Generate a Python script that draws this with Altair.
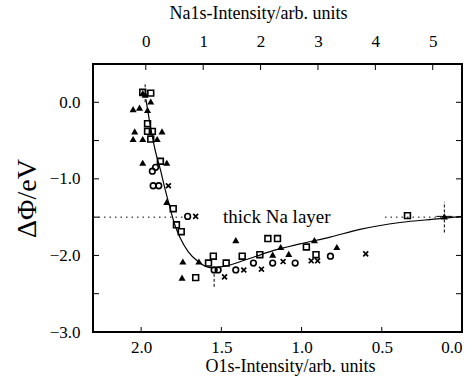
import altair as alt
import pandas as pd

# ---- data (O1s intensity, work-function change) ----
tri_o = [2.05, 2.01, 1.96, 1.94, 1.975, 1.99, 2.04, 1.87, 2.05, 1.99, 1.90, 1.99, 1.84,
         1.84, 1.74, 1.64, 1.745, 1.41, 1.18, 1.13, 1.08, 0.92, 0.78, 0.11]
tri_phi = [-0.09, -0.07, -0.10, 0.01, 0.10, 0.12, -0.38, -0.38, -0.48, -0.48, -0.48, -0.79, -0.79,
           -1.30, -2.08, -2.08, -2.29, -1.80, -1.99, -1.89, -1.98, -1.80, -1.89, -1.49]

sq_o = [1.99, 1.94, 1.96, 1.96, 1.93, 1.94, 1.88, 1.80, 1.78, 1.75, 1.66, 1.58, 1.55,
        1.47, 1.37, 1.26, 1.21, 1.15, 0.97, 0.91, 0.34]
sq_phi = [0.13, 0.12, -0.28, -0.38, -0.38, -0.48, -0.77, -1.39, -1.60, -1.69, -2.29, -2.10, -2.01,
          -2.10, -2.01, -1.99, -1.78, -1.78, -1.89, -1.99, -1.48]

ci_o = [1.93, 1.91, 1.925, 1.89, 1.71, 1.545, 1.52, 1.41, 1.30, 1.18, 1.04, 0.82]
ci_phi = [-0.90, -0.85, -1.09, -1.09, -1.49, -2.19, -2.19, -2.19, -2.10, -2.10, -2.10, -2.01]

x_o = [1.83, 1.66, 1.48, 1.36, 1.25, 1.115, 0.94, 0.90, 0.60]
x_phi = [-1.09, -1.49, -2.28, -2.19, -2.18, -2.08, -2.07, -2.07, -1.98]

fit_o = [1.97, 1.944, 1.913, 1.88, 1.85, 1.82, 1.79, 1.757, 1.707, 1.645, 1.57, 1.477,
         1.352, 1.196, 1.01, 0.822, 0.636, 0.386, 0.137, 0.0]
fit_phi = [0.04, -0.29, -0.62, -0.88, -1.14, -1.38, -1.60, -1.77, -1.95, -2.08, -2.16, -2.14,
           -2.06, -1.95, -1.85, -1.76, -1.66, -1.57, -1.52, -1.49]

thick_na = -1.5
thick_seg_o1 = [2.3, 0.48]
thick_seg_o2 = [1.72, 0.0]
label_text = ["thick Na layer"]
label_o = [1.49]

err_o = [0.11, 1.545, 1.975]
err_lo = [-1.70, -2.41, 0.0]
err_hi = [-1.30, -2.21, 0.24]
herr_o1 = [0.16]
herr_o2 = [0.06]
herr_phi = [-1.49]

o_ticks = [2.0, 1.5, 1.0, 0.5]
phi_ticks = [0.0, -0.5, -1.0, -1.5, -2.0, -2.5]
na_ticks = [0, 1, 2, 3, 4, 5]

W, H = 369, 268
FONT = "Liberation Serif"
o_scale = alt.Scale(domain=[2.3, 0.0], nice=False, zero=False)
phi_scale = alt.Scale(domain=[-3.0, 0.5], nice=False, zero=False)
na_scale = alt.Scale(domain=[-0.92, 5.51], nice=False, zero=False)

x_axis = alt.Axis(values=[2.0, 1.5, 1.0, 0.5, 0.0], format=".1f", tickSize=0,
                  domain=False, grid=False, labelFont=FONT, labelFontSize=17,
                  labelPadding=7, labelColor="black",
                  title="O1s-Intensity/arb. units", titleFont=FONT,
                  titleFontSize=18, titleFontWeight="normal", titleColor="black",
                  titlePadding=2, titleX=197)
y_axis = alt.Axis(values=[0.0, -1.0, -2.0, -3.0], format=".1f", tickSize=0,
                  domain=False, grid=False, labelFont=FONT, labelFontSize=17,
                  labelPadding=13, labelColor="black",
                  title="ΔΦ/eV", titleFont=FONT, titleFontSize=28,
                  titleFontWeight="normal", titleColor="black", titlePadding=8)


def X(f):
    return alt.X(f, type="quantitative", scale=o_scale, axis=x_axis)


def Y(f):
    return alt.Y(f, type="quantitative", scale=phi_scale, axis=y_axis)


base = alt.Chart(pd.DataFrame({"o": o_ticks})).mark_rule(color="black", strokeWidth=1).encode(
    x=X("o"), y=alt.value(H), y2=alt.value(H - 5))

phi_df = pd.DataFrame({"phi": phi_ticks})
left_ticks = alt.Chart(phi_df).mark_rule(color="black", strokeWidth=1).encode(
    y=Y("phi"), x=alt.value(0), x2=alt.value(6))
right_ticks = alt.Chart(phi_df).mark_rule(color="black", strokeWidth=1).encode(
    y=Y("phi"), x=alt.value(W), x2=alt.value(W - 6))

na_df = pd.DataFrame({"na": na_ticks})
top_ticks = alt.Chart(na_df).mark_rule(color="black", strokeWidth=1).encode(
    x=alt.X("na:Q", scale=na_scale,
            axis=alt.Axis(orient="top", values=na_ticks, format="d", tickSize=0,
                          domain=False, grid=False, labelFont=FONT, labelFontSize=17,
                          labelPadding=14, labelColor="black",
                          title="Na1s-Intensity/arb. units", titleFont=FONT,
                          titleFontSize=18, titleFontWeight="normal", titleColor="black",
                          titlePadding=10, titleX=165)),
    y=alt.value(0), y2=alt.value(6))

fit = alt.Chart(pd.DataFrame({"o": fit_o, "phi": fit_phi})).mark_line(
    color="black", strokeWidth=1.2, interpolate="monotone").encode(x=X("o"), y=Y("phi"))

seg = alt.Chart(pd.DataFrame({"o1": thick_seg_o1, "o2": thick_seg_o2,
                              "phi": [thick_na, thick_na]})).mark_rule(
    color="black", strokeWidth=1, strokeDash=[1.5, 4]).encode(
    x=X("o1"), x2="o2", y=Y("phi"))

label = alt.Chart(pd.DataFrame({"o": label_o, "phi": [thick_na], "t": label_text})).mark_text(
    font=FONT, fontSize=19, align="left", baseline="middle", color="black").encode(
    x=X("o"), y=Y("phi"), text="t:N")

verr = alt.Chart(pd.DataFrame({"o": err_o, "lo": err_lo, "hi": err_hi})).mark_rule(
    color="black", strokeWidth=1, strokeDash=[3, 2]).encode(x=X("o"), y=Y("lo"), y2="hi")
herr = alt.Chart(pd.DataFrame({"o1": herr_o1, "o2": herr_o2, "phi": herr_phi})).mark_rule(
    color="black", strokeWidth=1).encode(x=X("o1"), x2="o2", y=Y("phi"))

tri = alt.Chart(pd.DataFrame({"o": tri_o, "phi": tri_phi})).mark_point(
    shape="triangle-up", filled=True, color="black", size=50, opacity=1).encode(
    x=X("o"), y=Y("phi"))
sq = alt.Chart(pd.DataFrame({"o": sq_o, "phi": sq_phi})).mark_point(
    shape="square", filled=False, color="black", strokeWidth=1.6, size=34, opacity=1).encode(
    x=X("o"), y=Y("phi"))
ci = alt.Chart(pd.DataFrame({"o": ci_o, "phi": ci_phi})).mark_point(
    shape="circle", filled=False, color="black", strokeWidth=1.6, size=32, opacity=1).encode(
    x=X("o"), y=Y("phi"))
xx = alt.Chart(pd.DataFrame({"o": x_o, "phi": x_phi})).mark_point(
    shape="M-1,-1L1,1M-1,1L1,-1", filled=False, color="black", strokeWidth=1.7, size=24,
    opacity=1).encode(x=X("o"), y=Y("phi"))

main = alt.layer(base, left_ticks, right_ticks, fit, seg, label, verr, herr, tri, sq, ci, xx)

chart = alt.layer(main, top_ticks).resolve_scale(x="independent").properties(
    width=W, height=H,
    padding={"left": 93, "top": 64, "right": 10, "bottom": 48},
    autosize=alt.AutoSizeParams(type="none"),
    background="white",
).configure_view(stroke="black", strokeWidth=2).configure_axis(
    labelFont=FONT, titleFont=FONT, labelColor="black", titleColor="black")

chart.save("out.html", embed_options={"renderer": "svg", "actions": False})
